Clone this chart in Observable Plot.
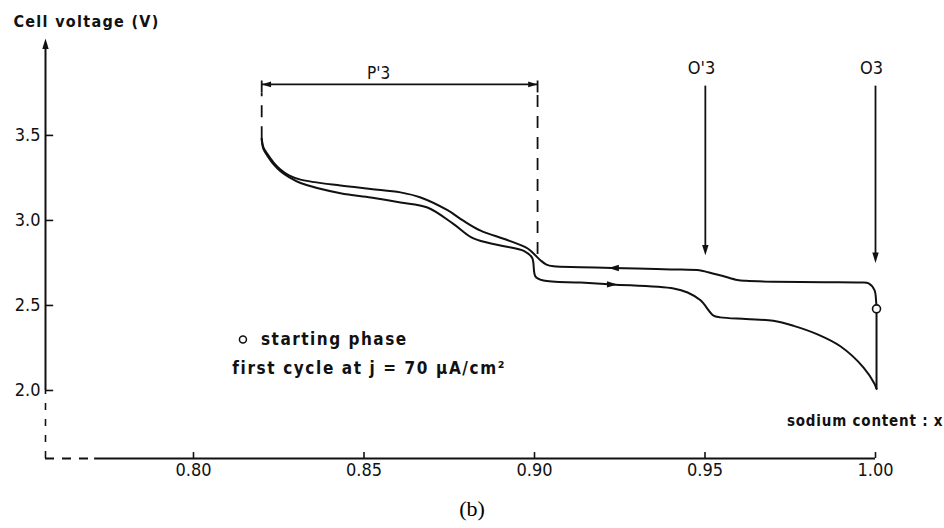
<!DOCTYPE html>
<html><head><meta charset="utf-8">
<script src="https://cdn.jsdelivr.net/npm/d3@7"></script>
<script src="https://cdn.jsdelivr.net/npm/@observablehq/plot@0.6"></script>
<style>
body{margin:0;background:#fff;}
#cap{width:944px;height:38px;line-height:38px;text-align:center;font-family:"Liberation Serif","DejaVu Serif",serif;font-size:22px;color:#000;}
</style></head><body><div id="chart"></div><div id="cap">(b)</div>
<script>
// ---- data ----
const xTicks = [0.80, 0.85, 0.90, 0.95, 1.00];
const yTicks = [2.0, 2.5, 3.0, 3.5];

// charge (upper curve, travelled leftwards from the starting point)
const chargeX = [1.0003, 1.0002, 0.9997, 0.998, 0.9956, 0.985, 0.97, 0.962, 0.9595, 0.955, 0.951, 0.9487, 0.94, 0.93, 0.9229, 0.9135, 0.9056, 0.9035, 0.9018, 0.9, 0.898, 0.892, 0.8842, 0.879, 0.8745, 0.8666, 0.8607, 0.852, 0.8431, 0.8314, 0.828, 0.8255, 0.8235, 0.8217, 0.8205, 0.82];
const chargeV = [2.48, 2.52, 2.59, 2.63, 2.635, 2.637, 2.64, 2.645, 2.65, 2.675, 2.695, 2.706, 2.712, 2.717, 2.72, 2.725, 2.73, 2.74, 2.765, 2.80, 2.835, 2.885, 2.94, 3.0, 3.06, 3.135, 3.165, 3.185, 3.205, 3.24, 3.265, 3.30, 3.34, 3.39, 3.43, 3.48];

// discharge (lower curve, travelled rightwards)
const dischargeX = [0.82, 0.8205, 0.8217, 0.8235, 0.8255, 0.828, 0.8314, 0.8431, 0.852, 0.8607, 0.8686, 0.8762, 0.8821, 0.890, 0.897, 0.8993, 0.9003, 0.9026, 0.9135, 0.9229, 0.9408, 0.9449, 0.9487, 0.9525, 0.9545, 0.962, 0.97, 0.976, 0.983, 0.9897, 0.9965, 0.9997, 1.0003];
const dischargeV = [3.48, 3.42, 3.38, 3.33, 3.29, 3.255, 3.22, 3.16, 3.135, 3.106, 3.076, 2.98, 2.894, 2.853, 2.82, 2.78, 2.67, 2.647, 2.635, 2.624, 2.60, 2.576, 2.53, 2.44, 2.43, 2.42, 2.41, 2.38, 2.33, 2.26, 2.135, 2.04, 2.01];

// closing vertical segment at x = 1.00 and starting point
const closeX = [1.0003, 1.0003];
const closeV = [2.01, 2.46];
const startX = [1.0003];
const startV = [2.48];

// phase annotations
const phaseLabels = ["P'3", "O'3", "O3"];
const phaseLabelX = [0.8543, 0.9490, 0.9988];
const phaseLabelV = [3.865, 3.894, 3.894];
const arrowX = [0.9501, 1.0];
const arrowTopV = [3.79, 3.79];
const arrowTipV = [2.795, 2.75];
const bracketX = [0.82, 0.9009];
const bracketV = 3.80;
const bracketDashEndV = [3.48, 2.80];

// direction arrows on the curves
const dirX = [0.9217, 0.9243];
const dirV = [2.72, 2.624];
const dirAngle = [-90, 90];

// texts
const titleText = "Cell voltage (V)";
const xLabelText = "sodium content : x";
const legendTexts = ["starting phase", "first cycle at j = 70 µA/cm²"];

// ---- build ----
const xMin = 0.7566, xMax = 1.0, vMin = 1.6, vMax = 4.07;
const charge = chargeX.map((x, i) => ({x, v: chargeV[i]}));
const discharge = dischargeX.map((x, i) => ({x, v: dischargeV[i]}));
const closing = closeX.map((x, i) => ({x, v: closeV[i]}));
const start = startX.map((x, i) => ({x, v: startV[i]}));
const phases = phaseLabels.map((t, i) => ({t, x: phaseLabelX[i], v: phaseLabelV[i]}));
const vArrows = arrowX.map((x, i) => ({x, top: arrowTopV[i], tip: arrowTipV[i]}));
const dirs = dirX.map((x, i) => ({x, v: dirV[i], a: dirAngle[i]}));

const arrowSym = {
  draw(ctx, size) {
    const r = Math.sqrt(size / Math.PI);
    const L = 2.6 * r, w = 0.8 * r;
    ctx.moveTo(0, 0);
    ctx.lineTo(w, L);
    ctx.lineTo(-w, L);
    ctx.closePath();
  }
};

const ink = "#111";
const font = "'DejaVu Sans Condensed','Liberation Sans Narrow','DejaVu Sans',sans-serif";

const chart = Plot.plot({
  width: 944,
  height: 490,
  marginLeft: 45,
  marginRight: 69,
  marginTop: 38,
  marginBottom: 32,
  x: {domain: [xMin, xMax]},
  y: {domain: [vMin, vMax]},
  style: {fontFamily: font, fontSize: "18px", color: ink, background: "#fff", overflow: "visible"},
  marks: [
    // axes
    Plot.axisX({ticks: xTicks, tickFormat: d => d.toFixed(2), tickSize: 0, tickPadding: 5, label: null}),
    Plot.axisY({ticks: yTicks, tickFormat: d => d.toFixed(1), tickSize: 0, tickPadding: 5, label: null}),
    Plot.ruleY([vMin], {x1: 0.771, x2: xMax, stroke: ink, strokeWidth: 2}),
    Plot.ruleY([vMin], {x1: xMin, x2: 0.771, stroke: ink, strokeWidth: 2, strokeDasharray: "9,8"}),
    Plot.ruleX([xMin], {y1: 2.0, y2: 4.02, stroke: ink, strokeWidth: 2}),
    Plot.ruleX([xMin], {y1: vMin, y2: 2.0, stroke: ink, strokeWidth: 1.6, strokeDasharray: "7,9"}),
    Plot.dot([xMin], {x: d => d, y: () => vMax, symbol: arrowSym, r: 4, fill: ink, stroke: null}),
    Plot.ruleX(xTicks, {y1: vMin, y2: vMin + 0.035, stroke: ink, strokeWidth: 1.6}),
    Plot.ruleY(yTicks, {x1: xMin, x2: xMin + 0.0024, stroke: ink, strokeWidth: 1.6}),
    Plot.text([titleText], {x: () => 0.7472, y: () => 4.165, text: d => d, textAnchor: "start", fontSize: 16, fontWeight: "bold", fill: ink}),
    Plot.text([xLabelText], {x: () => 1.0199, y: () => 1.82, text: d => d, textAnchor: "end", fontSize: 15, fontWeight: "bold", fill: ink}),

    // curves
    Plot.line(charge, {x: "x", y: "v", curve: "catmull-rom", stroke: ink, strokeWidth: 2}),
    Plot.line(discharge, {x: "x", y: "v", curve: "catmull-rom", stroke: ink, strokeWidth: 2}),
    Plot.line(closing, {x: "x", y: "v", stroke: ink, strokeWidth: 2}),
    Plot.dot(dirs, {x: "x", y: "v", rotate: "a", symbol: arrowSym, r: 4, fill: ink, stroke: null}),

    // P'3 bracket
    Plot.ruleY([bracketV], {x1: bracketX[0], x2: bracketX[1], stroke: ink, strokeWidth: 1.6}),
    Plot.ruleX(bracketX, {y1: bracketV - 0.05, y2: bracketV + 0.02, stroke: ink, strokeWidth: 1.8}),
    Plot.dot(bracketX, {x: d => d, y: () => bracketV, rotate: (d, i) => i === 0 ? -90 : 90, symbol: arrowSym, r: 3.6, fill: ink, stroke: null}),
    Plot.ruleX(bracketX, {y1: (d, i) => bracketDashEndV[i], y2: bracketV - 0.05, stroke: ink, strokeWidth: 1.8, strokeDasharray: "12,9"}),

    // O'3 and O3 arrows
    Plot.ruleX(vArrows, {x: "x", y1: d => d.tip + 0.04, y2: "top", stroke: ink, strokeWidth: 1.8}),
    Plot.dot(vArrows, {x: "x", y: "tip", rotate: 180, symbol: arrowSym, r: 4, fill: ink, stroke: null}),
    Plot.text(phases, {x: "x", y: "v", text: "t", fontSize: (d, i) => i === 0 ? 17 : 18, fill: ink}),

    // starting point
    Plot.dot(start, {x: "x", y: "v", r: 4, fill: "#fff", stroke: ink, strokeWidth: 1.6}),

    // legend
    Plot.dot([0], {x: () => 0.8145, y: () => 2.30, r: 3.5, fill: "#fff", stroke: ink, strokeWidth: 1.5}),
    Plot.text([legendTexts[0]], {x: () => 0.8198, y: () => 2.30, text: d => d, textAnchor: "start", fontSize: 17, fontWeight: "bold", fill: ink}),
    Plot.text([legendTexts[1]], {x: () => 0.8114, y: () => 2.13, text: d => d, textAnchor: "start", fontSize: 17, fontWeight: "bold", fill: ink})
  ]
});

// letter spacing to match the widely-spaced lettering of the original
const spacing = {};
spacing[titleText] = "1.3px";
spacing[xLabelText] = "0.8px";
spacing[legendTexts[0]] = "1.5px";
spacing[legendTexts[1]] = "1.6px";
d3.select(chart).selectAll("text").each(function() {
  const s = spacing[this.textContent];
  if (s) this.style.letterSpacing = s;
});
document.getElementById("chart").appendChild(chart);
</script></body></html>
